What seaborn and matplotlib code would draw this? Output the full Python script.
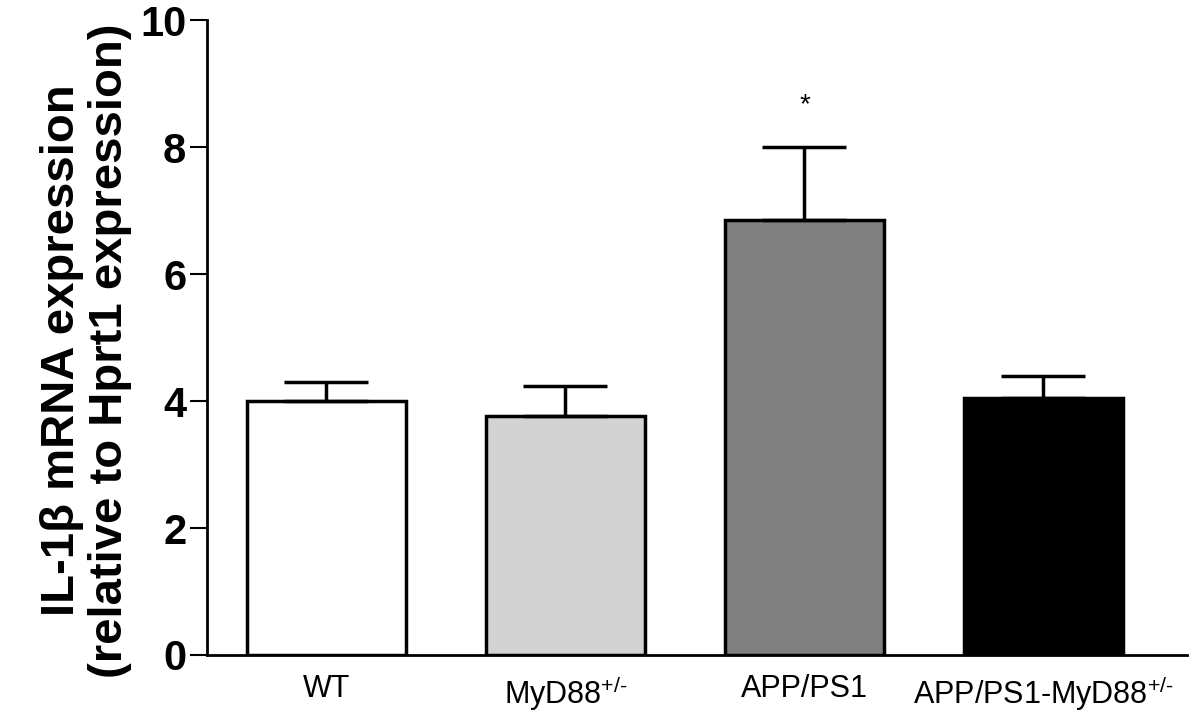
import numpy as np
import seaborn as sns
import matplotlib.pyplot as plt

# Datos
grupos = ['WT', 'MyD88$^{\\text{+/-}}$', 'APP/PS1', 'APP/PS1-MyD88$^{\\text{+/-}}$']
medias = [4.0, 3.77, 6.85, 4.05]
error_sup = [0.30, 0.46, 1.15, 0.35]
colores = ['#ffffff', '#d3d3d3', '#808080', '#000000']
significancia = ['', '', '*', '']

sns.set_style('ticks')
plt.rcParams['font.family'] = ['Liberation Sans', 'DejaVu Sans']
plt.rcParams['mathtext.fontset'] = 'custom'
plt.rcParams['mathtext.rm'] = 'Liberation Sans'
for clave in ['text.color', 'axes.labelcolor', 'xtick.color', 'ytick.color', 'axes.edgecolor']:
    plt.rcParams[clave] = 'black'

fig = plt.figure(figsize=(12, 7.2), dpi=100)
ax = fig.add_axes([0.1725, 0.0903, 0.8165, 0.8817])

sns.barplot(x=grupos, y=medias, hue=grupos, palette=colores, legend=False,
            edgecolor='black', linewidth=2.5, width=0.667, ax=ax)

ax.errorbar(x=np.arange(len(grupos)), y=medias,
            yerr=[np.zeros(len(grupos)), error_sup], fmt='none',
            ecolor='black', elinewidth=2.5, capsize=30, capthick=2.5, zorder=1)

for i, s in enumerate(significancia):
    if s:
        ax.text(i, medias[i] + error_sup[i] + 0.45, s, ha='center', va='bottom', fontsize=20)

ax.set_ylim(0, 10)
ax.set_xlim(-0.5, 3.6)
ax.set_yticks([0, 2, 4, 6, 8, 10])
ax.tick_params(axis='y', labelsize=30, width=1.5, length=12, pad=3, color='black')
for lbl in ax.get_yticklabels():
    lbl.set_fontweight('bold')
ax.tick_params(axis='x', labelsize=22, length=0, pad=14)
ax.set_ylabel('IL-1β mRNA expression\n(relative to Hprt1 expression)',
              fontsize=34, fontweight='bold', labelpad=6, linespacing=1.1)
ax.yaxis.label.set_y(0.48)
sns.despine(ax=ax)
for sp in ['left', 'bottom']:
    ax.spines[sp].set_linewidth(2)

plt.savefig('out.png', dpi=100)
